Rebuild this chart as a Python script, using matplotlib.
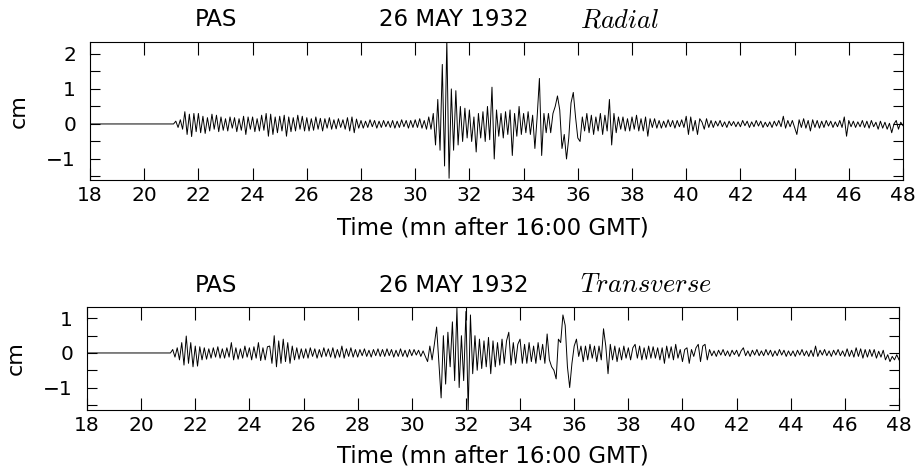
import numpy as np
import matplotlib
matplotlib.use("Agg")
import matplotlib.pyplot as plt
from matplotlib.ticker import MultipleLocator

# ---------------- data ----------------
station = "PAS"
date_label = "26 MAY 1932"
components = ["Radial", "Transverse"]
x_label = "Time (mn after 16:00 GMT)"
y_label = "cm"
t_start = 18.0          # record starts (flat until onset)
t_rows = 21.0           # first sampled minute
samples_per_min = 12
x_ticks = list(range(18, 49, 2))

# Radial trace, one row per minute (21 ... 47), 12 readings each, in cm
radial_rows = [
    [0, 0.0, 0.08, -0.1, 0.12, -0.15, 0.35, -0.3, 0.28, -0.36, 0.3, -0.22],        # 21
    [0.3, -0.25, 0.22, -0.27, 0.18, -0.2, 0.28, -0.15, 0.25, -0.22, 0.2, -0.18],    # 22
    [0.15, -0.2, 0.2, -0.12, 0.18, -0.22, 0.15, -0.18, 0.22, -0.3, 0.2, -0.15],     # 23
    [0.2, -0.22, 0.15, -0.2, 0.25, -0.18, 0.3, -0.35, 0.28, -0.3, 0.2, -0.25],      # 24
    [0.22, -0.2, 0.25, -0.35, 0.2, -0.22, 0.18, -0.2, 0.25, -0.15, 0.22, -0.2],     # 25
    [0.18, -0.2, 0.15, -0.18, 0.2, -0.15, 0.16, -0.2, 0.15, -0.12, 0.18, -0.15],    # 26
    [0.12, -0.14, 0.15, -0.1, 0.12, -0.15, 0.18, -0.2, 0.2, -0.25, 0.14, -0.12],    # 27
    [0.1, -0.12, 0.08, -0.1, 0.12, -0.08, 0.1, -0.12, 0.08, -0.1, 0.1, -0.08],      # 28
    [0.08, -0.1, 0.1, -0.12, 0.08, -0.1, 0.12, -0.08, 0.1, -0.12, 0.1, -0.1],       # 29
    [0.12, -0.1, 0.15, -0.12, 0.1, -0.15, 0.2, -0.15, 0.3, -0.6, 0.7, -0.75],       # 30
    [1.7, -1.2, 2.4, -1.55, 1.0, -0.75, 0.95, -0.6, 0.5, -0.5, 0.45, -0.4],         # 31
    [0.4, -0.5, 0.2, -0.8, 0.3, -0.4, 0.35, -0.5, 0.5, -0.45, 1.05, -1.0],          # 32
    [0.4, -0.35, 0.3, -0.4, 0.35, -0.3, 0.4, -0.9, 0.3, -0.35, 0.5, -0.3],          # 33
    [0.3, -0.25, 0.35, -0.3, 0.25, -0.7, 0.2, 1.3, -0.9, 0.3, -0.25, 0.3],          # 34
    [-0.25, 0.3, 0.5, 0.8, 0.4, -0.7, -0.3, -1.0, -0.4, 0.6, 0.9, 0.2],             # 35
    [-0.4, -0.5, 0.2, -0.2, 0.3, -0.25, 0.25, -0.3, 0.2, -0.2, 0.3, -0.3],          # 36
    [0.25, -0.2, 0.7, -0.6, 0.3, -0.25, 0.2, -0.15, 0.2, -0.2, 0.15, -0.2],         # 37
    [0.2, -0.15, 0.25, -0.2, 0.15, -0.2, 0.2, -0.35, 0.15, -0.1, 0.15, -0.12],      # 38
    [0.1, -0.12, 0.08, -0.1, 0.12, -0.08, 0.1, -0.12, 0.1, -0.08, 0.12, -0.1],      # 39
    [0.22, -0.3, 0.2, -0.2, 0.1, -0.3, 0.15, 0.05, -0.15, 0.15, -0.1, 0.1],         # 40
    [-0.1, 0.08, -0.06, 0.1, -0.08, 0.06, -0.1, 0.08, -0.05, 0.07, -0.08, 0.06],    # 41
    [-0.08, 0.1, -0.05, 0.08, -0.1, 0.06, -0.08, 0.1, -0.06, 0.08, -0.1, 0.05],     # 42
    [-0.08, 0.06, -0.1, 0.08, -0.06, 0.1, -0.08, 0.22, -0.12, 0.1, -0.08, 0.1],     # 43
    [-0.1, -0.3, 0.12, -0.1, 0.15, -0.12, 0.1, -0.2, 0.12, -0.1, 0.1, -0.12],       # 44
    [0.08, -0.1, 0.1, -0.06, 0.08, -0.1, 0.06, -0.08, 0.1, -0.1, 0.2, -0.35],       # 45
    [0.1, -0.08, 0.08, -0.1, 0.06, -0.08, 0.1, -0.1, 0.08, -0.12, 0.1, -0.08],      # 46
    [0.05, -0.15, 0.08, -0.12, 0.05, -0.15, 0.02, -0.25, 0.0, 0.1, -0.15, 0.05],    # 47
]
radial_last = -0.05     # value at 48.0

# Transverse trace, one row per minute (21 ... 47), 12 readings each, in cm
transverse_rows = [
    [0, 0.0, 0.1, -0.12, 0.15, -0.2, 0.3, -0.35, 0.49, -0.3, 0.3, -0.4],           # 21
    [0.2, -0.38, 0.18, -0.2, 0.15, -0.18, 0.12, -0.15, 0.15, -0.12, 0.18, -0.15],   # 22
    [0.12, -0.15, 0.15, -0.12, 0.3, -0.2, 0.15, -0.18, 0.12, -0.15, 0.2, -0.12],    # 23
    [0.15, -0.2, 0.18, -0.15, 0.3, -0.22, 0.15, -0.2, 0.18, 0.2, -0.3, 0.5],        # 24
    [-0.4, 0.35, -0.3, 0.4, -0.25, 0.3, -0.3, 0.2, -0.2, 0.15, -0.18, 0.12],        # 25
    [-0.15, 0.12, -0.15, 0.15, -0.1, 0.12, -0.15, 0.1, -0.12, 0.15, -0.1, 0.12],    # 26
    [-0.12, 0.15, -0.15, 0.1, -0.12, 0.2, -0.15, 0.12, -0.1, 0.15, -0.12, 0.1],     # 27
    [-0.12, 0.1, -0.08, 0.12, -0.1, 0.08, -0.12, 0.1, -0.08, 0.12, -0.1, 0.1],      # 28
    [-0.1, 0.12, -0.08, 0.1, -0.12, 0.08, -0.1, 0.12, -0.1, 0.08, -0.12, 0.1],      # 29
    [-0.08, 0.1, -0.06, 0.08, -0.1, 0.06, -0.1, -0.25, 0.2, -0.2, 0.25, 0.75],      # 30
    [-0.3, -1.3, 0.5, -0.9, 0.6, -0.4, 0.9, -0.8, 1.3, -1.0, 0.5, -0.8],            # 31
    [1.2, -1.65, 1.1, -0.6, 0.5, -0.5, 0.4, -0.45, 0.35, -0.4, 0.45, -0.6],         # 32
    [0.35, -0.4, 0.3, -0.35, 0.4, -0.3, 0.35, 0.6, -0.35, 0.3, -0.3, 0.25],         # 33
    [0.4, -0.3, 0.25, -0.3, 0.3, -0.25, 0.2, -0.3, 0.3, -0.2, 0.25, -0.3],          # 34
    [0.55, -0.2, -0.4, -0.5, -0.75, 0.4, 0.3, 1.1, 0.8, -0.4, -1.0, -0.3],          # 35
    [0.2, 0.4, -0.1, 0.2, -0.25, 0.2, -0.2, 0.25, -0.15, 0.2, -0.25, 0.2],          # 36
    [-0.2, 0.7, 0.2, -0.6, 0.25, -0.2, 0.2, -0.25, 0.15, -0.2, 0.2, -0.15],         # 37
    [0.15, -0.2, 0.15, 0.25, -0.15, 0.2, -0.2, 0.15, -0.18, 0.2, -0.15, 0.18],      # 38
    [-0.15, 0.15, -0.2, 0.15, -0.3, 0.2, -0.15, 0.18, -0.2, 0.25, -0.15, 0.1],      # 39
    [-0.25, 0.1, 0.15, -0.3, 0.1, -0.1, 0.15, 0.25, -0.25, 0.2, 0.25, -0.2],        # 40
    [0.1, -0.08, 0.06, -0.1, 0.08, -0.06, 0.1, -0.08, 0.06, -0.1, 0.08, -0.05],     # 41
    [0.08, -0.1, 0.06, 0.15, -0.08, 0.06, -0.1, 0.08, -0.06, 0.1, -0.08, 0.06],     # 42
    [-0.08, 0.1, -0.06, 0.08, -0.1, 0.06, -0.08, 0.1, -0.06, 0.08, -0.1, 0.06],     # 43
    [-0.08, 0.06, -0.1, 0.08, -0.06, 0.1, -0.08, 0.06, -0.1, 0.08, -0.1, 0.2],      # 44
    [-0.1, 0.08, -0.06, 0.1, -0.08, 0.06, -0.1, 0.08, -0.06, 0.1, -0.08, 0.06],     # 45
    [-0.1, 0.12, -0.1, 0.08, -0.12, 0.15, -0.1, 0.12, -0.15, 0.1, -0.12, 0.1],      # 46
    [-0.1, 0.1, -0.15, 0.05, -0.12, 0.08, -0.2, -0.05, -0.25, -0.1, -0.2, -0.05],   # 47
]
transverse_last = -0.2

radial_ylim = (-1.6, 2.34)
transverse_ylim = (-1.65, 1.33)
radial_yticks = [-1, 0, 1, 2]
transverse_yticks = [-1, 0, 1]


def build_trace(rows, last):
    vals = np.concatenate([np.asarray(r, float) for r in rows] + [np.array([last])])
    t = t_rows + np.arange(len(vals)) / samples_per_min
    return np.concatenate([[t_start], t]), np.concatenate([[0.0], vals])


# ---------------- figure ----------------
plt.rcParams["font.family"] = ["DejaVu Sans"]
fig = plt.figure(figsize=(9.2, 4.69), dpi=100)

panels = [
    dict(rect=[90 / 920, 1 - 180 / 469, 813 / 920, 138 / 469],
         rows=radial_rows, last=radial_last, ylim=radial_ylim, yt=radial_yticks,
         comp=components[0], ty=20, xl=228),
    dict(rect=[87 / 920, 1 - 410 / 469, 812 / 920, 103 / 469],
         rows=transverse_rows, last=transverse_last, ylim=transverse_ylim, yt=transverse_yticks,
         comp=components[1], ty=285, xl=456),
]

fs_tick = 14.5
fs_text = 16.5
for p in panels:
    ax = fig.add_axes(p["rect"])
    t, v = build_trace(p["rows"], p["last"])
    ax.plot(t, v, color="black", lw=0.7)
    ax.set_xlim(18, 48)
    ax.set_ylim(*p["ylim"])
    ax.set_xticks(x_ticks)
    ax.set_yticks(p["yt"])
    ax.yaxis.set_minor_locator(MultipleLocator(0.5))
    ax.tick_params(axis="x", which="major", direction="in", length=9, width=0.8,
                   top=True, bottom=True, labelsize=fs_tick, pad=4)
    ax.tick_params(axis="y", which="both", direction="in", length=7, width=0.8,
                   left=True, right=True, labelsize=fs_tick, pad=10)
    for s in ax.spines.values():
        s.set_linewidth(0.8)
    ax.set_ylabel(y_label, fontsize=16, labelpad=13)
    fig.text(493 / 920, 1 - p["xl"] / 469, x_label, fontsize=fs_text, ha="center", va="center")
    ty = 1 - p["ty"] / 469
    fig.text(216 / 920, ty, station, fontsize=fs_text, ha="center", va="center")
    fig.text(454 / 920, ty, date_label, fontsize=fs_text, ha="center", va="center")
    fig.text(580 / 920, ty, "$" + p["comp"] + "$", fontsize=19, ha="left", va="center",
             math_fontfamily="cm")

fig.savefig("out.png", dpi=100)
